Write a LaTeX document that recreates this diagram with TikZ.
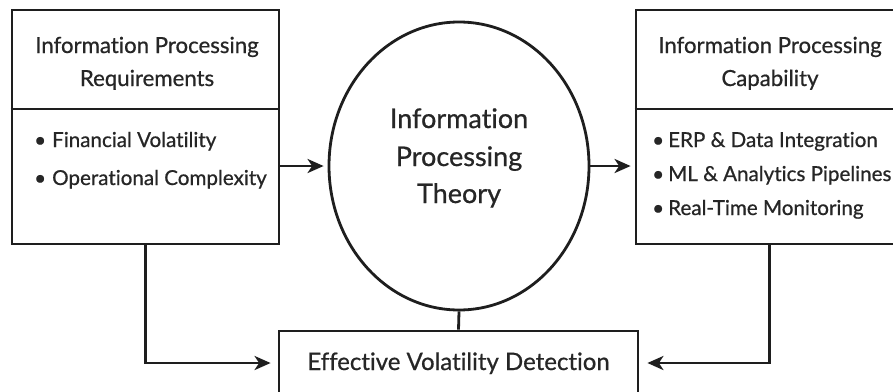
\documentclass[tikz,border=0pt]{standalone}
\usepackage{fontspec}
\setmainfont{Lato}[Ligatures=NoCommon, FakeBold=0.7]
\usetikzlibrary{arrows.meta,shapes.geometric}
\definecolor{ink}{HTML}{1E1E1E}
\definecolor{txt}{HTML}{262626}
\begin{document}
\begin{tikzpicture}[x=1pt,y=-1pt,
  frame/.style={draw=ink, line width=2.8pt, rectangle, inner sep=0pt},
  sidebox/.style={frame, minimum width=267pt, minimum height=234pt},
  ttl/.style={text=txt, inner sep=0pt, anchor=base, font=\fontsize{22.2}{22}\selectfont},
  bul/.style={text=txt, inner sep=0pt, anchor=base west, font=\fontsize{20.6}{21}\selectfont},
  ctr/.style={text=txt, inner sep=0pt, anchor=base, font=\fontsize{27}{27}\selectfont},
  bot/.style={text=txt, inner sep=0pt, anchor=base, font=\fontsize{24}{24}\selectfont},
  divider/.style={draw=ink, line width=2.8pt},
  conn/.style={draw=ink, line width=2.8pt},
  arr/.style={conn, -{Stealth[length=16pt,width=14pt,inset=4.5pt]}}]
\useasboundingbox (0,0) rectangle (893,391);
\fill[white] (0,0) rectangle (893,391);
\clip (0,0) rectangle (893,391);

% left box
\node[sidebox] (lbox) at (145.5,127) {};
\draw[divider] (lbox.west |- 0,109) -- (lbox.east |- 0,109);
\node[ttl] (lt1) at (147,53) {Information Processing};
\node[ttl] (lt2) at (147,86) {Requirements};
\node[bul] (lb1) at (34,147) {\makebox[18pt][l]{•}Financial Volatility};
\node[bul] (lb2) at (34,185) {\makebox[18pt][l]{•}Operational Complexity};

% right box
\node[sidebox] (rbox) at (769.5,127) {};
\draw[divider] (rbox.west |- 0,109) -- (rbox.east |- 0,109);
\node[ttl] (rt1) at (770,53) {Information Processing};
\node[ttl] (rt2) at (770,86) {Capability};
\node[bul] (rb1) at (652,147) {\makebox[16pt][l]{•}ERP \& Data Integration};
\node[bul] (rb2) at (652,181) {\makebox[16pt][l]{•}ML \& Analytics Pipelines};
\node[bul] (rb3) at (652,215) {\makebox[16pt][l]{•}Real-Time Monitoring};

% centre ellipse
\node[ellipse, draw=ink, line width=2.8pt, minimum width=260pt, minimum height=288pt, inner sep=0pt] (ell) at (459,166) {};
\node[ctr] (c1) at (459,128) {Information};
\node[ctr] (c2) at (459,166) {Processing};
\node[ctr] (c3) at (459,203) {Theory};

% bottom box
\node[frame, minimum width=359pt, minimum height=64pt] (bbox) at (458.5,363) {};
\node[bot] (bt) at (458.5,370) {Effective Volatility Detection};

% connectors
\draw[arr, shorten >=4pt] (lbox.east |- ell.center) -- (ell.west);
\draw[arr, shorten >=4pt] (ell.east) -- (rbox.west |- ell.center);
\draw[arr, shorten >=7pt] (lbox.south) |- (bbox.west);
\draw[arr, shorten >=8pt] (rbox.south) |- (bbox.east);
\draw[conn] (ell.south) -- (bbox.north);
\end{tikzpicture}
\end{document}
